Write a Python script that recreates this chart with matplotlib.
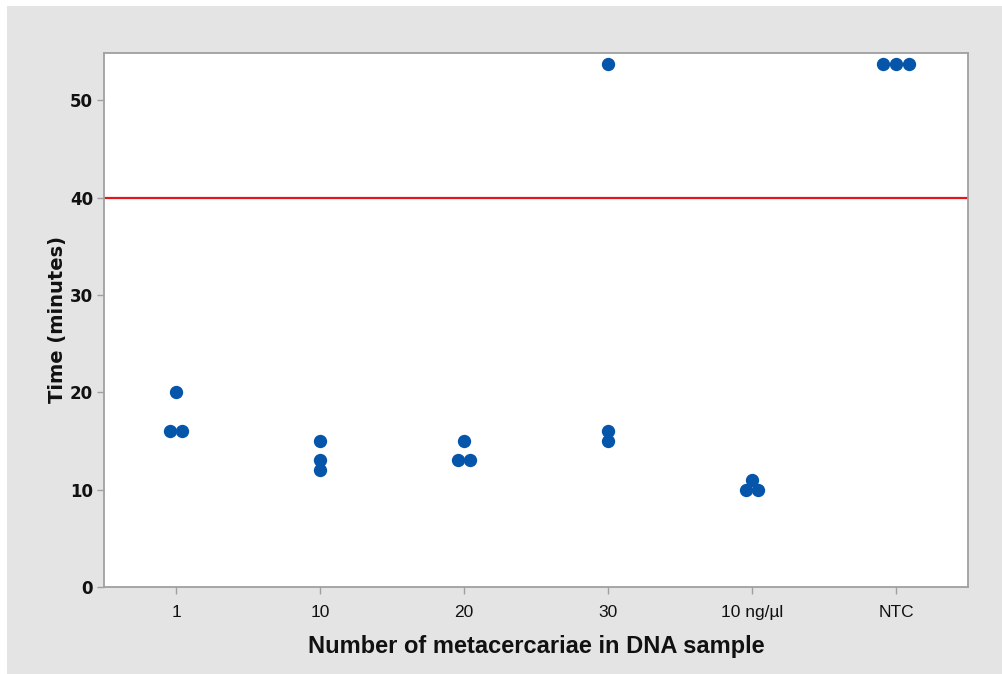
import numpy as np
import matplotlib
matplotlib.use("Agg")
import matplotlib.pyplot as plt
from matplotlib.patches import Rectangle

categories = ["1", "10", "20", "30", "10 ng/\u00b5l", "NTC"]
times = [
    [20, 16, 16],
    [15, 13, 12],
    [15, 13, 13],
    [53.7, 16, 15],
    [11, 10, 10],
    [53.7, 53.7, 53.7],
]
cutoff = 40

fig = plt.figure(figsize=(10.03, 6.74), dpi=100)
fig.patch.set_facecolor("white")
fig.patches.append(Rectangle((7 / 1003, 0), 1, 1 - 6 / 674,
                             transform=fig.transFigure, facecolor="#e4e4e4",
                             edgecolor="none", zorder=-10))

ax = fig.add_axes([0.1037, 0.1291, 0.8614, 0.7923])
ax.set_facecolor("white")

# dodge repeated values sideways so they do not overlap
step = 0.088
for i, vals in enumerate(times):
    xs = []
    for j, v in enumerate(vals):
        same = [k for k, w in enumerate(vals) if w == v]
        n = len(same)
        pos = same.index(j)
        xs.append(i + (pos - (n - 1) / 2) * step)
    ax.plot(xs, vals, "o", color="#0555aa", markersize=9.6,
            markeredgewidth=0, zorder=3)

ax.axhline(cutoff, color="#e3161c", linewidth=1.6, zorder=2)

ax.set_xlim(-0.5, len(categories) - 0.5)
ax.set_ylim(0, 54.85)
ax.set_xticks(range(len(categories)))
ax.set_xticklabels(categories, fontfamily="Liberation Sans", fontsize=12.5)
ax.set_yticks([0, 10, 20, 30, 40, 50])
ax.set_yticklabels(["0", "10", "20", "30", "40", "50"],
                   fontfamily="DejaVu Sans", fontweight="bold", fontsize=12)

for s in ax.spines.values():
    s.set_color("#a0a0a0")
    s.set_linewidth(1.3)

ax.tick_params(axis="both", colors="#a0a0a0", length=5, width=1)
ax.tick_params(axis="x", pad=8, labelcolor="#111111")
ax.tick_params(axis="y", pad=3, labelcolor="#111111")

ax.set_xlabel("Number of metacercariae in DNA sample", fontfamily="Liberation Sans",
              fontweight="bold", fontsize=17, color="#111111", labelpad=11)
ax.set_ylabel("Time (minutes)", fontfamily="DejaVu Sans", fontweight="bold",
              fontsize=14, color="#111111", labelpad=2)

plt.savefig("out.png", dpi=100)
